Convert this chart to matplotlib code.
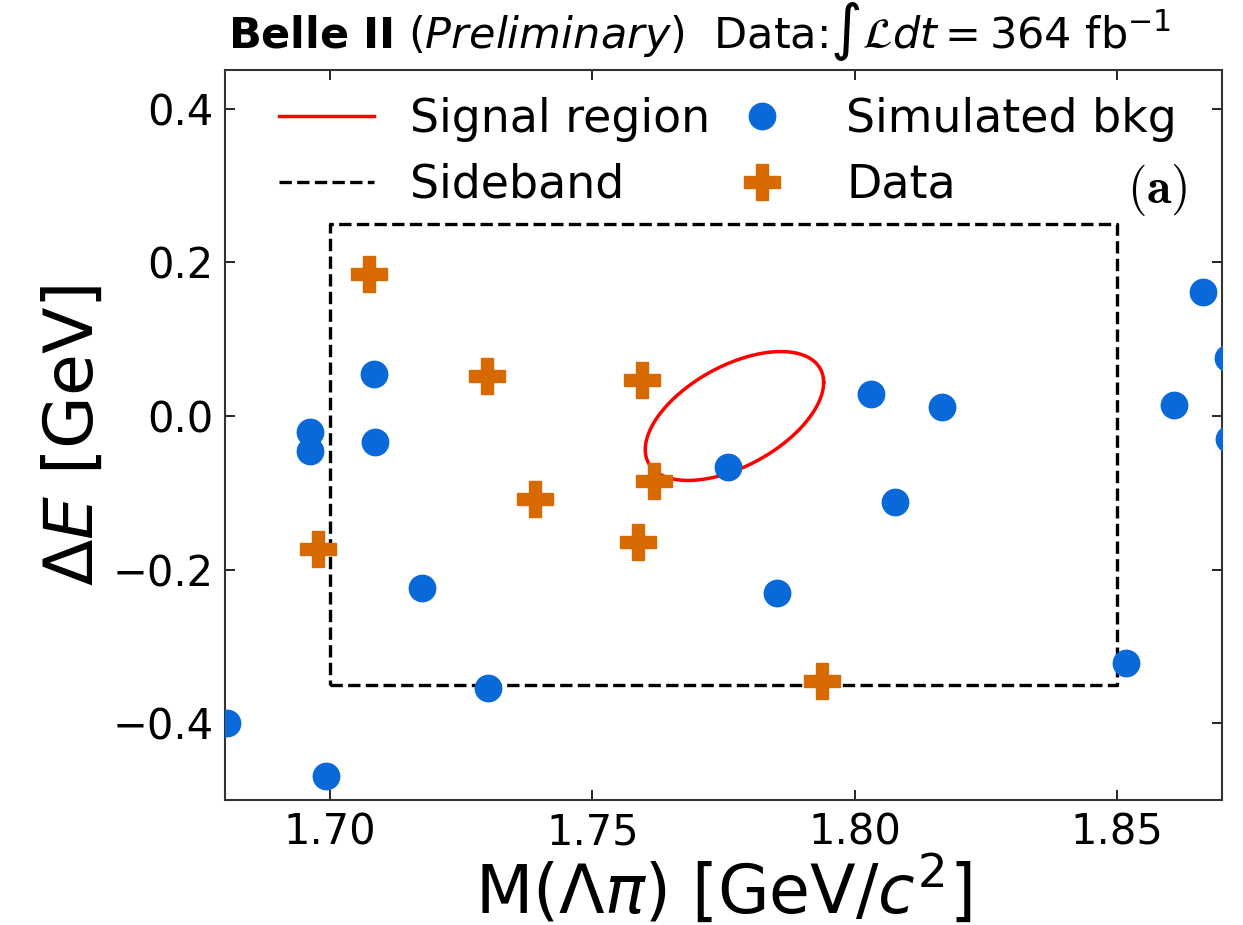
import numpy as np
import matplotlib
matplotlib.use("Agg")
import matplotlib.pyplot as plt
from matplotlib.lines import Line2D

# Simulated background candidates: M(Lambda pi) [GeV/c^2], Delta E [GeV]
bkg_mass = [1.6803, 1.6992, 1.6962, 1.6962, 1.7084, 1.7085, 1.7176, 1.7302,
            1.7758, 1.7852, 1.8032, 1.8077, 1.8166, 1.8518, 1.8609, 1.8664,
            1.8712, 1.8714]
bkg_de = [-0.399, -0.469, -0.021, -0.045, 0.055, -0.034, -0.224, -0.354,
          -0.066, -0.230, 0.028, -0.112, 0.012, -0.322, 0.014, 0.162,
          0.075, -0.030]

# Observed data candidates
data_mass = [1.6978, 1.7074, 1.7299, 1.7390, 1.7588, 1.7595, 1.7618, 1.7937]
data_de = [-0.173, 0.185, 0.052, -0.108, -0.164, 0.047, -0.084, -0.345]

# Sideband box
sb_mass = (1.70, 1.85)
sb_de = (-0.35, 0.25)

# Signal region ellipse: centre, half-widths and correlation
sig_center = (1.7771, 0.0)
sig_width = (0.0170, 0.0839)
sig_rho = 0.52

xlim = (1.68, 1.87)
ylim = (-0.5, 0.45)
xticks = [1.70, 1.75, 1.80, 1.85]
yticks = [-0.4, -0.2, 0.0, 0.2, 0.4]

blue = "#0a69d8"
orange = "#d66a00"

fig = plt.figure(figsize=(12.43, 9.25), dpi=100)
ax = fig.add_axes([0.181, 0.135, 0.802, 0.789])

# sideband rectangle
x0, x1 = sb_mass
y0, y1 = sb_de
ax.plot([x0, x1, x1, x0, x0], [y0, y0, y1, y1, y0], color="black",
        linestyle="--", linewidth=2.4, zorder=2)

# signal ellipse
t = np.linspace(0, 2 * np.pi, 400)
ex = sig_center[0] + sig_width[0] * np.cos(t)
ey = sig_center[1] + sig_width[1] * (sig_rho * np.cos(t)
                                     + np.sqrt(1 - sig_rho**2) * np.sin(t))
ax.plot(ex, ey, color="red", linewidth=2.5, zorder=3)

ax.plot(bkg_mass, bkg_de, linestyle="none", marker="o", markersize=19,
        color=blue, zorder=4)
ax.plot(data_mass, data_de, linestyle="none", marker="P", markersize=26,
        color=orange, zorder=5)

ax.set_xlim(*xlim)
ax.set_ylim(*ylim)
ax.set_xticks(xticks)
ax.set_xticklabels([f"{v:.2f}" for v in xticks])
ax.set_yticks(yticks)
ax.set_yticklabels([f"{v:.1f}".replace("-", "\u2212") for v in yticks])
ax.tick_params(direction="in", top=True, right=True, length=7, width=1.2,
               labelsize=30, pad=8)
for sp in ax.spines.values():
    sp.set_linewidth(1.5)
    sp.set_color("#333333")

ax.set_xlabel(r"M($\Lambda\pi$) [GeV/$c^2$]", fontsize=48, labelpad=0)
ax.set_ylabel(r"$\Delta E$ [GeV]", fontsize=49, labelpad=4)

handles = [
    Line2D([], [], color="red", linewidth=2.5),
    Line2D([], [], color="black", linestyle="--", linewidth=2.4),
    Line2D([], [], linestyle="none", marker="o", markersize=19, color=blue),
    Line2D([], [], linestyle="none", marker="P", markersize=26, color=orange),
]
labels = ["Signal region", "Sideband", "Simulated bkg", "Data"]
ax.legend(handles, labels, ncol=2, frameon=False, fontsize=33,
          loc="upper left", bbox_to_anchor=(0.013, 1.02), handlelength=2.06,
          handletextpad=0.8, columnspacing=0.1, labelspacing=0.45)

ax.text(0.965, 0.836, r"$\mathbf{(a)}$", transform=ax.transAxes,
        ha="right", va="center", fontsize=36, math_fontfamily="cm")

ax.text(0.003, 1.03,
        r"$\bf{Belle\ II}$ ($\it{Preliminary}$)  Data:$\int\mathcal{L}dt = 364$ fb$^{-1}$",
        transform=ax.transAxes, ha="left", va="baseline", fontsize=31)

fig.savefig("out.png", dpi=100)
